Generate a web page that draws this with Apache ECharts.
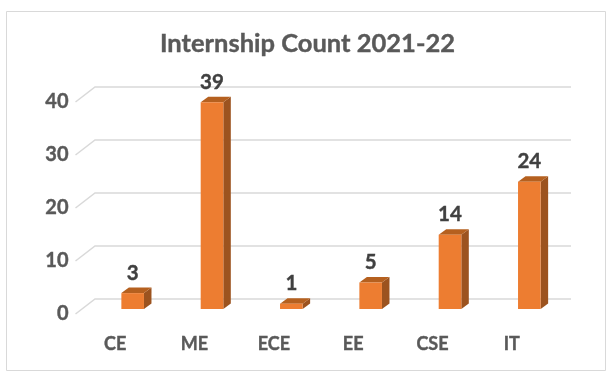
<!DOCTYPE html>
<html>
<head>
<meta charset="utf-8">
<style>
  html, body { margin: 0; padding: 0; background: #fff; }
  #chart { width: 612px; height: 379px; }
</style>
<script src="https://cdn.jsdelivr.net/npm/echarts@6/dist/echarts.min.js"></script>
</head>
<body>
<div id="chart"></div>
<script>
const departments = ['CE', 'ME', 'ECE', 'EE', 'CSE', 'IT']
const internships = [3, 39, 1, 5, 14, 24]
const yTicks = [0, 10, 20, 30, 40]

const fontFamily = 'Lato, "Open Sans", sans-serif'

// fake 3D: wall depth and where the bars sit inside it
const wallDx = 19.5
const wallDy = -15
const barShiftX = 17.5
const barShiftY = -5
const barDx = 7.5
const barDy = -5.5

const chart = echarts.init(document.getElementById('chart'), null, { renderer: 'canvas' })

function renderWall(params, api) {
  const y = api.coord([0, api.value(0)])[1]
  const cs = params.coordSys
  const lineStyle = { stroke: '#d9d9d9', lineWidth: 1.5, fill: null }
  return {
    type: 'group',
    silent: true,
    children: [
      {
        type: 'polyline',
        shape: { points: [[cs.x, y], [cs.x + wallDx, y + wallDy], [cs.x + cs.width + wallDx, y + wallDy]] },
        style: lineStyle
      }
    ]
  }
}

function renderBar(params, api) {
  const cat = api.value(0)
  const val = api.value(1)
  const top = api.coord([cat, val])
  const base = api.coord([cat, 0])
  const w = api.size([1, 0])[0] * 0.285
  const x0 = top[0] + barShiftX - w / 2
  const x1 = x0 + w
  const y0 = top[1] + barShiftY
  const y1 = base[1] + barShiftY
  return {
    type: 'group',
    children: [
      {
        type: 'polygon',
        shape: { points: [[x1, y0], [x1 + barDx, y0 + barDy], [x1 + barDx, y1 + barDy], [x1, y1]] },
        style: { fill: '#9c531f' }
      },
      {
        type: 'polygon',
        shape: { points: [[x0, y0], [x0 + barDx, y0 + barDy], [x1 + barDx, y0 + barDy], [x1, y0]] },
        style: { fill: '#b5601f' }
      },
      {
        type: 'rect',
        shape: { x: x0, y: y0, width: w, height: y1 - y0 },
        style: { fill: '#ed7d31' }
      },
      {
        type: 'text',
        style: {
          text: String(val),
          x: (x0 + x1) / 2,
          y: y0 - 20,
          align: 'center',
          verticalAlign: 'middle',
          fill: '#404040',
          stroke: '#404040',
          lineWidth: 0.4,
          font: 'bold 20.5px ' + fontFamily
        }
      }
    ]
  }
}

const option = {
  animation: false,
  backgroundColor: '#fff',
  title: {
    text: 'Internship Count 2021-22',
    left: 155,
    top: 26,
    textStyle: {
      color: '#595959', fontFamily, fontWeight: 'bold', fontSize: 25.5,
      textBorderColor: '#595959', textBorderWidth: 0.4
    }
  },
  graphic: [
    {
      type: 'rect',
      shape: { x: 6.5, y: 11.5, width: 599, height: 359 },
      style: { fill: null, stroke: '#d9d9d9', lineWidth: 1 }
    }
  ],
  grid: { left: 75.5, top: 102, width: 476, height: 212, containLabel: false },
  xAxis: {
    type: 'category',
    data: departments,
    axisLine: { show: false },
    axisTick: { show: false },
    axisLabel: {
      margin: 21, color: '#595959', fontFamily, fontWeight: 'bold', fontSize: 18,
      textBorderColor: '#595959', textBorderWidth: 0.4
    }
  },
  yAxis: {
    type: 'value',
    min: 0,
    max: yTicks[yTicks.length - 1],
    interval: 10,
    axisLine: { show: false },
    axisTick: { show: false },
    splitLine: { show: false },
    axisLabel: {
      margin: 7, color: '#595959', fontFamily, fontWeight: 'bold', fontSize: 20, padding: [0, 0, 5, 0],
      textBorderColor: '#595959', textBorderWidth: 0.4
    }
  },
  series: [
    {
      type: 'custom',
      coordinateSystem: 'cartesian2d',
      renderItem: renderWall,
      clip: false,
      z: 1,
      encode: { y: 0 },
      data: yTicks.map(t => [t])
    },
    {
      type: 'custom',
      coordinateSystem: 'cartesian2d',
      renderItem: renderBar,
      clip: false,
      z: 2,
      encode: { x: 0, y: 1 },
      data: internships.map((v, i) => [i, v])
    }
  ]
}

chart.setOption(option)
</script>
</body>
</html>
